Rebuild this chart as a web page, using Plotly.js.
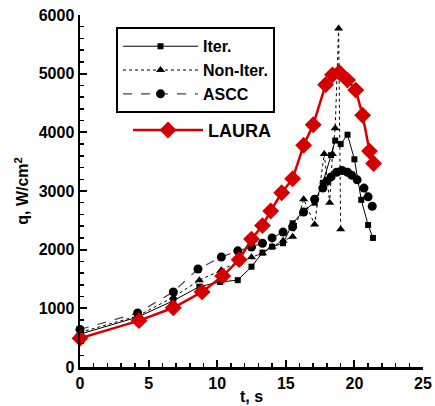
<!DOCTYPE html>
<html>
<head>
<meta charset="utf-8">
<script src="https://cdn.plot.ly/plotly-3.0.1.min.js"></script>
<style>html,body{margin:0;padding:0;background:#fff}#chart{width:435px;height:406px}</style>
</head>
<body>
<div id="chart"></div>
<script>
// Iter. (squares, solid)
const iterT = [0, 4.2, 6.8, 8.7, 10.2, 11.5, 12.5, 13.3, 14.0, 14.8, 15.5, 16.3, 17.1, 17.7, 18.3, 18.6, 19.0, 19.5, 20.0, 20.5, 21.0, 21.35];
const iterQ = [560, 850, 1130, 1370, 1450, 1480, 1710, 1950, 2050, 2110, 2450, 2660, 2800, 3140, 3610, 3860, 3800, 3960, 3540, 2850, 2420, 2200];
// Non-Iter. (triangles, dotted)
const nonIterT = [0, 4.2, 6.8, 8.7, 10.3, 11.6, 12.5, 13.3, 14.0, 14.8, 15.5, 16.3, 17.1, 17.8, 18.2, 18.4, 18.6, 18.85, 19.0];
const nonIterQ = [590, 870, 1190, 1480, 1650, 1800, 1870, 1940, 2050, 2150, 2220, 2860, 2430, 3630, 2800, 3630, 4070, 5770, 2350];
// ASCC (circles, dashed)
const asccT = [0, 4.2, 6.8, 8.6, 10.3, 11.5, 12.5, 13.3, 14.0, 14.8, 15.5, 16.3, 17.1, 17.7, 18.0, 18.3, 18.7, 19.1, 19.5, 19.8, 20.2, 20.7, 21.0, 21.3];
const asccQ = [640, 920, 1280, 1670, 1875, 1980, 2045, 2110, 2200, 2300, 2390, 2640, 2860, 3050, 3170, 3240, 3320, 3350, 3320, 3270, 3190, 3050, 2900, 2740];
// LAURA (red diamonds)
const lauraT = [0, 4.3, 6.8, 8.9, 10.4, 11.6, 12.5, 13.3, 13.9, 14.7, 15.5, 16.3, 17.0, 17.9, 18.4, 18.9, 19.5, 20.1, 20.6, 21.1, 21.4];
const lauraQ = [490, 790, 1010, 1280, 1550, 1830, 2180, 2410, 2660, 2970, 3210, 3780, 4130, 4810, 4980, 5020, 4890, 4720, 4290, 3680, 3470];

const xTicks = [0, 5, 10, 15, 20, 25];
const yTicks = [0, 1000, 2000, 3000, 4000, 5000, 6000];

const FONT = 'Liberation Sans, Arial, sans-serif';

const traces = [
  {x: iterT, y: iterQ, name: 'Iter.', type: 'scatter', mode: 'lines+markers',
   line: {color: '#000', width: 1}, marker: {symbol: 'square', size: 6, color: '#000'},
   cliponaxis: false, legend: 'legend'},
  {x: nonIterT, y: nonIterQ, name: 'Non-Iter.', type: 'scatter', mode: 'lines+markers',
   line: {color: '#000', width: 1, dash: 'dot'}, marker: {symbol: 'triangle-up', size: 8, color: '#000'},
   cliponaxis: false, legend: 'legend'},
  {x: asccT, y: asccQ, name: 'ASCC', type: 'scatter', mode: 'lines+markers',
   line: {color: '#444', width: 1.2, dash: 'dash'}, marker: {symbol: 'circle', size: 9, color: '#000'},
   cliponaxis: false, legend: 'legend'},
  {x: lauraT, y: lauraQ, name: 'LAURA', type: 'scatter', mode: 'lines+markers',
   line: {color: '#d40000', width: 2.5}, marker: {symbol: 'diamond', size: 13, color: '#d40000'},
   cliponaxis: false, legend: 'legend2'}
];

const axisCommon = {
  showline: true, linecolor: '#000', linewidth: 2.5, mirror: false,
  showgrid: false, zeroline: false,
  ticks: 'inside', ticklen: 7, tickwidth: 2, tickcolor: '#000',
  tickfont: {family: FONT, size: 16, color: '#000', weight: 700},
  minor: {ticks: 'inside', ticklen: 4, tickwidth: 1.5, tickcolor: '#000'}
};

const layout = {
  width: 435, height: 406,
  margin: {l: 80, r: 12, t: 15, b: 39},
  paper_bgcolor: '#fff', plot_bgcolor: '#fff',
  showlegend: true,
  xaxis: Object.assign({}, axisCommon, {
    range: [0, 25], tickvals: xTicks, ticktext: xTicks.map(String),
    minor: Object.assign({}, axisCommon.minor, {dtick: 1}),
    title: {text: 't, s', font: {family: FONT, size: 16, color: '#000', weight: 700}, standoff: 0}
  }),
  yaxis: Object.assign({}, axisCommon, {
    range: [0, 6000], tickvals: yTicks, ticktext: yTicks.map(String),
    minor: Object.assign({}, axisCommon.minor, {dtick: 200}),
    title: {text: 'q, W/cm<sup>2</sup>', font: {family: FONT, size: 16, color: '#000', weight: 700}, standoff: 6}
  }),
  legend: {
    x: 0.105, y: 0.965, xanchor: 'left', yanchor: 'top',
    bordercolor: '#000', borderwidth: 2, bgcolor: '#fff',
    font: {family: FONT, size: 16, color: '#000', weight: 700},
    itemwidth: 75,
    tracegroupgap: 0
  },
  legend2: {
    x: 0.14, y: 0.725, xanchor: 'left', yanchor: 'top',
    borderwidth: 0, bgcolor: 'rgba(0,0,0,0)',
    itemwidth: 70,
    font: {family: FONT, size: 18, color: '#000', weight: 700}
  }
};

Plotly.newPlot('chart', traces, layout, {displayModeBar: false, staticPlot: true});
</script>
</body>
</html>
